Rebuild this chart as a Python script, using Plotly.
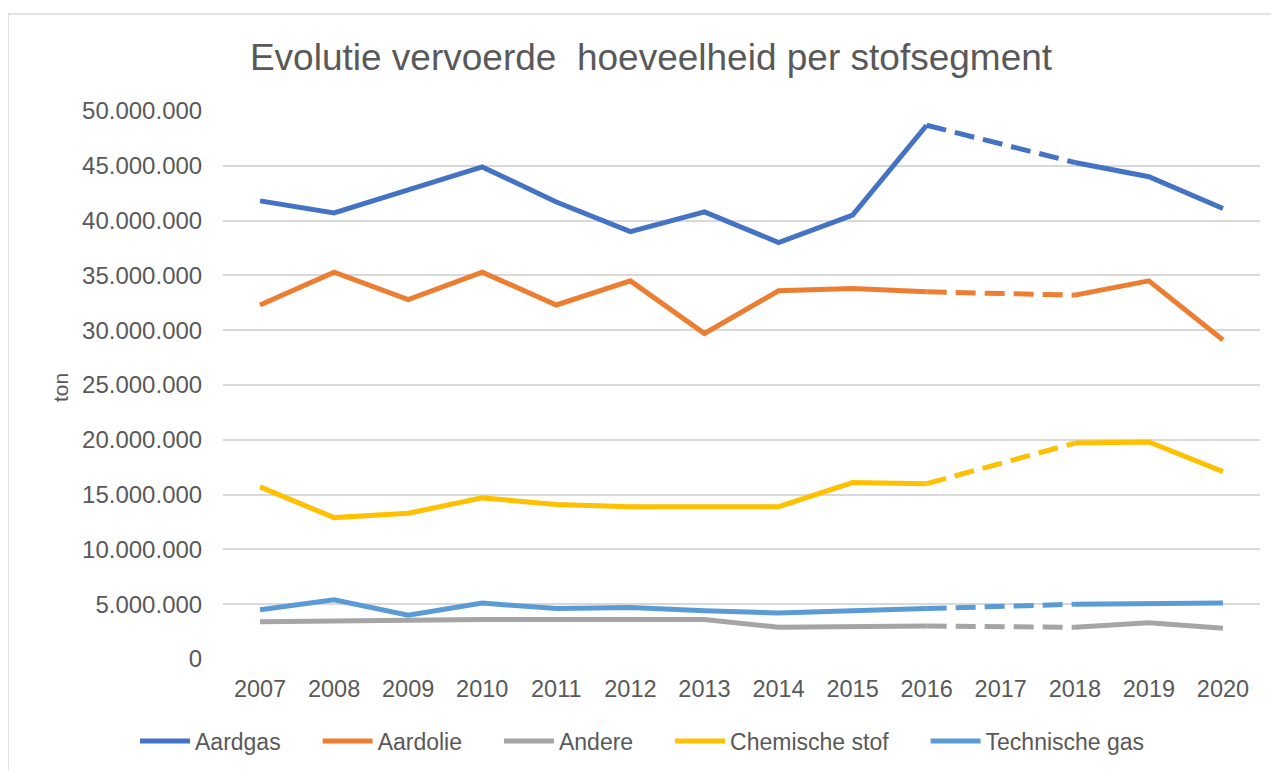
import plotly.graph_objects as go

years = ["2007", "2008", "2009", "2010", "2011", "2012", "2013",
         "2014", "2015", "2016", "2017", "2018", "2019", "2020"]

aardgas = [41.8e6, 40.7e6, 42.8e6, 44.9e6, 41.7e6, 39.0e6, 40.8e6,
           38.0e6, 40.5e6, 48.7e6, None, 45.3e6, 44.0e6, 41.1e6]
aardolie = [32.3e6, 35.3e6, 32.8e6, 35.3e6, 32.3e6, 34.5e6, 29.7e6,
            33.6e6, 33.8e6, 33.5e6, None, 33.2e6, 34.5e6, 29.1e6]
andere = [3.4e6, 3.5e6, 3.6e6, 3.6e6, 3.6e6, 3.6e6, 3.6e6,
          2.9e6, 3.0e6, 3.0e6, None, 2.9e6, 3.3e6, 2.8e6]
chemische = [15.7e6, 12.9e6, 13.3e6, 14.7e6, 14.1e6, 13.9e6, 13.9e6,
             13.9e6, 16.1e6, 16.0e6, None, 19.7e6, 19.8e6, 17.1e6]
technische = [4.5e6, 5.4e6, 4.0e6, 5.1e6, 4.6e6, 4.7e6, 4.4e6,
              4.2e6, 4.4e6, 4.6e6, None, 5.0e6, 5.0e6, 5.1e6]

series_names = ["Aardgas", "Aardolie", "Andere", "Chemische stof", "Technische gas"]
series_values = [aardgas, aardolie, andere, chemische, technische]
series_colors = ["#4472C4", "#ED7D31", "#A5A5A5", "#FFC000", "#5B9BD5"]

y_ticks = list(range(0, 50_000_001, 5_000_000))

fig = go.Figure()
for name, vals, col in zip(series_names, series_values, series_colors):
    fig.add_trace(go.Scatter(
        x=years, y=vals, mode="lines", name=name + "     ",
        line=dict(color=col, width=5), connectgaps=False,
    ))
    # dashed bridge over the missing year (2016 -> 2018)
    i0, i1 = years.index("2016"), years.index("2018")
    fig.add_trace(go.Scatter(
        x=[years[i0], years[i1]], y=[vals[i0], vals[i1]], mode="lines",
        line=dict(color=col, width=5, dash="20px,9px"), showlegend=False,
        hoverinfo="skip",
    ))

# the page body has an 8px margin; work in window pixels and subtract it
OFF = 8
W, H = 1279 - OFF, 771 - OFF
L, R, T, B = 223 - OFF, 1260 - OFF, 111 - OFF, 659 - OFF
pw, ph = R - L, B - T

def px_x(x):
    return (x - OFF - L) / pw

def px_y(y):
    return (B - (y - OFF)) / ph

grey = "#595959"
fig.update_layout(
    width=W, height=H,
    margin=dict(l=L, r=W - R, t=T, b=H - B, autoexpand=False),
    paper_bgcolor="white", plot_bgcolor="white",
    separators=",.",
    font=dict(family="Liberation Sans, Arial, sans-serif", color=grey, size=23),
    title=dict(text="Evolutie vervoerde  hoeveelheid per stofsegment",
               x=(651 - OFF) / W, xanchor="center", y=1 - (57 - OFF) / H,
               yanchor="middle", font=dict(size=37, color=grey)),
    xaxis=dict(type="category", categoryorder="array", categoryarray=years,
               range=[-0.5, 13.5], showgrid=False, showline=False, zeroline=False,
               ticks="outside", ticklen=9, tickcolor="rgba(0,0,0,0)",
               tickfont=dict(size=23.5, color=grey), fixedrange=True),
    yaxis=dict(range=[0, 50_000_000], tickvals=y_ticks, tickformat=",.0f",
               showgrid=True, gridcolor="#D9D9D9", gridwidth=1.5,
               zeroline=False, showline=False,
               ticks="outside", ticklen=15, tickcolor="rgba(0,0,0,0)",
               tickfont=dict(size=24, color=grey), fixedrange=True),
    legend=dict(orientation="h", x=px_x(135), xanchor="left",
                y=px_y(741), yanchor="middle",
                font=dict(size=23, color=grey), itemwidth=50,
                bgcolor="rgba(0,0,0,0)"),
    showlegend=True,
    annotations=[dict(text="ton", textangle=-90, xref="paper", yref="paper",
                      x=px_x(60), y=px_y(388), xanchor="center", yanchor="middle",
                      showarrow=False, font=dict(size=21, color=grey))],
    shapes=[
        dict(type="line", xref="paper", yref="paper",
             x0=px_x(8), x1=px_x(1290), y0=px_y(14), y1=px_y(14),
             line=dict(color="#D9D9D9", width=1.5)),
        dict(type="line", xref="paper", yref="paper",
             x0=px_x(8), x1=px_x(8), y0=px_y(14), y1=px_y(790),
             line=dict(color="#D9D9D9", width=1.5)),
    ],
)

fig.write_html("out.html")
